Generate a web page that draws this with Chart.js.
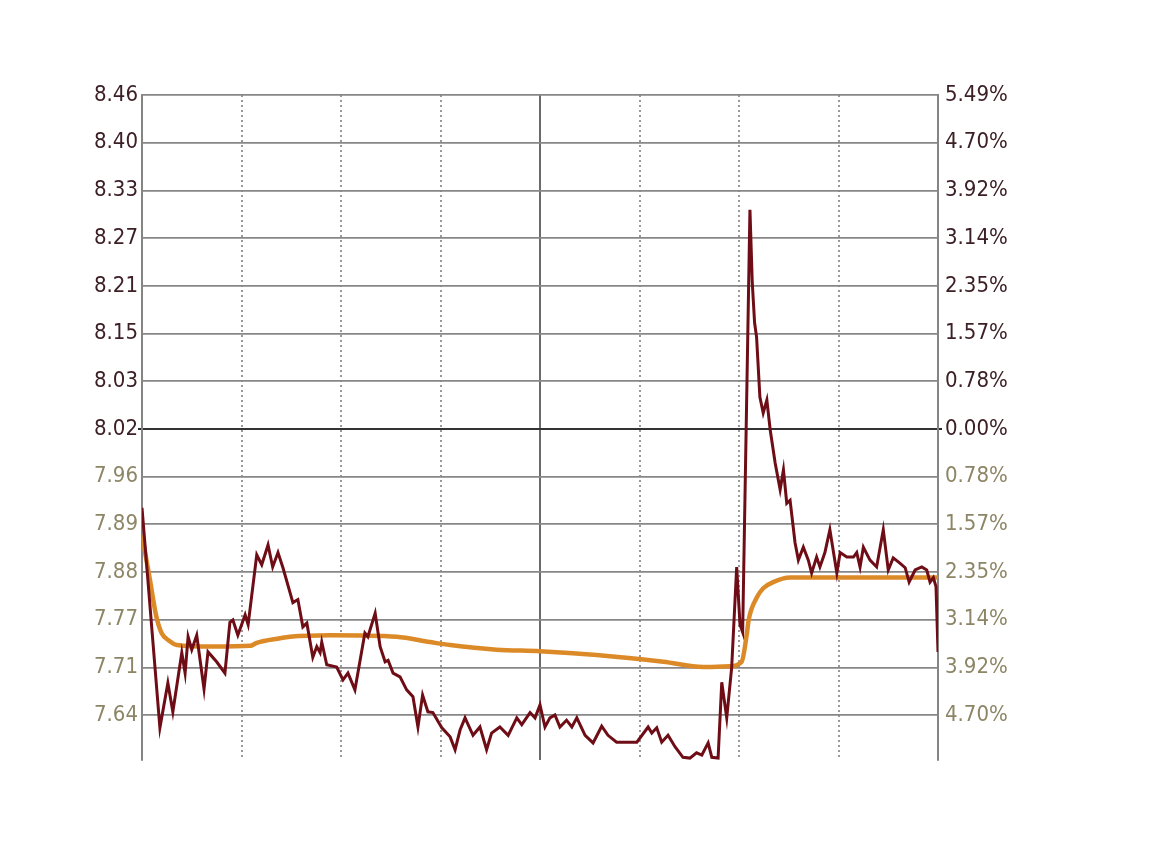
<!DOCTYPE html>
<html>
<head>
<meta charset="utf-8">
<script src="https://cdn.jsdelivr.net/npm/chart.js@4.4.1/dist/chart.umd.min.js"></script>
<style>
    html, body { margin: 0; padding: 0; background: #fff; }
    #wrap { width: 1176px; height: 849px; }
</style>
</head>
<body>
<div id="wrap"><canvas id="intradayChart"></canvas></div>
<script>
// minutes since open (0..240) and price of the trade line
const priceMinutes = [0, 5.4, 7.8, 9.3, 12.0, 13.0, 13.9, 15.0, 16.5, 18.7, 19.9, 22.5, 25.0, 26.5, 27.4, 28.9,
    31.1, 32.0, 34.6, 36.1, 38.0, 39.4, 41.0, 42.5, 45.5, 47.0, 48.5, 49.7, 51.5, 52.7, 53.7, 54.2, 55.7, 58.7,
    60.6, 62.1, 64.2, 67.2, 68.1, 70.3, 71.8, 73.3, 74.2, 75.7, 77.8, 79.8, 81.7, 83.2, 84.6, 86.2, 87.7, 90.4,
    92.9, 94.4, 95.9, 97.4, 99.8, 101.9, 103.9, 105.4, 107.9, 110.4, 113.0, 114.5, 117.0, 118.5, 120.0, 121.5,
    123.0, 124.5, 126.0, 128.0, 129.6, 131.1, 133.6, 136.0, 138.6, 140.5, 143.1, 149.2, 152.6, 153.7, 155.2,
    156.7, 158.6, 160.7, 163.1, 165.2, 167.2, 168.8, 170.7, 171.8, 173.7, 174.8, 176.3, 177.8, 179.3, 180.3,
    181.1, 183.3, 184.0, 184.7, 185.3, 186.3, 187.3, 188.4, 189.4, 190.9, 192.4, 193.4, 194.4, 195.4, 196.9,
    197.9, 199.4, 200.9, 201.9, 203.4, 204.4, 205.9, 207.4, 209.5, 210.5, 212.5, 214.5, 215.5, 216.5, 217.5,
    219.5, 221.5, 223.5, 225.0, 226.5, 228.5, 230.1, 231.3, 233.1, 235.1, 236.6, 237.6, 238.6, 239.4, 240];
const prices = [7.916, 7.626, 7.685, 7.647, 7.725, 7.698, 7.746, 7.729, 7.748, 7.677, 7.726, 7.713, 7.698, 7.765, 7.768, 7.748,
    7.775, 7.762, 7.854, 7.841, 7.867, 7.838, 7.857, 7.837, 7.791, 7.795, 7.759, 7.764, 7.719, 7.733, 7.725, 7.739, 7.709, 7.706,
    7.689, 7.698, 7.676, 7.751, 7.746, 7.777, 7.733, 7.713, 7.715, 7.698, 7.693, 7.676, 7.667, 7.627, 7.669, 7.647, 7.646, 7.626,
    7.614, 7.597, 7.623, 7.639, 7.616, 7.627, 7.597, 7.619, 7.627, 7.616, 7.639, 7.630, 7.646, 7.639, 7.656, 7.627,
    7.639, 7.643, 7.627, 7.636, 7.627, 7.639, 7.616, 7.606, 7.628, 7.616, 7.607, 7.607, 7.627, 7.619, 7.626,
    7.607, 7.616, 7.601, 7.587, 7.586, 7.593, 7.590, 7.606, 7.587, 7.586, 7.686, 7.639, 7.706, 7.838, 7.762,
    7.752, 8.309, 8.213, 8.160, 8.141, 8.062, 8.041, 8.058, 8.019, 7.975, 7.940, 7.966, 7.922, 7.926, 7.870,
    7.847, 7.864, 7.847, 7.830, 7.851, 7.838, 7.857, 7.887, 7.830, 7.857, 7.851, 7.851, 7.857, 7.838, 7.864,
    7.847, 7.838, 7.887, 7.834, 7.850, 7.843, 7.837, 7.818, 7.834, 7.838, 7.834, 7.818, 7.824, 7.812, 7.726];

// average price line
const avgMinutes = [0, 2.4, 4.2, 5.9, 8.4, 10.5, 21.4, 32.6, 34.6, 41.6, 44.6, 56.7, 76.8, 86.8, 92.9, 106.9,
    120.0, 137.1, 157.2, 169.2, 177.3, 180.8, 182.4, 182.9, 185.4, 187.3, 190.3, 195.4, 240];
const avgPrices = [7.880, 7.821, 7.775, 7.751, 7.740, 7.735, 7.733, 7.734, 7.738, 7.744, 7.746, 7.748, 7.746, 7.739, 7.735, 7.729,
    7.727, 7.722, 7.713, 7.706, 7.707, 7.713, 7.751, 7.768, 7.798, 7.810, 7.818, 7.824, 7.824];

// axis labels, bottom to top
const leftLabels = ['7.64', '7.71', '7.77', '7.88', '7.89', '7.96', '8.02', '8.03', '8.15', '8.21', '8.27', '8.33', '8.40', '8.46'];
const rightLabels = ['4.70%', '3.92%', '3.14%', '2.35%', '1.57%', '0.78%', '0.00%', '0.78%', '1.57%', '2.35%', '3.14%', '3.92%', '4.70%', '5.49%'];
const timeTicks = [0, 30, 60, 90, 120, 150, 180, 210, 240];

const basePrice = 8.02;
const gridStep = 0.0629;
const zeroIndex = 6;

const levels = leftLabels.map((_, i) => basePrice + (i - zeroIndex) * gridStep);
const darkText = '#3d2026';
const paleText = '#8c8666';
const labelFont = { family: '"DejaVu Sans Condensed", "DejaVu Sans", sans-serif', size: 22 };

function levelTicks(scale) {
    scale.ticks = levels.map(v => ({ value: v }));
}

function yAxis(position, labels, width, pad) {
    return {
        position: position,
        min: basePrice - 6.94 * gridStep,
        max: basePrice + 7 * gridStep,
        afterBuildTicks: levelTicks,
        afterFit: s => { s.width = width; },
        border: { display: true, color: '#858585', width: 2 },
        grid: {
            drawOnChartArea: position === 'left',
            color: c => c.index === zeroIndex ? '#333333' : '#878787',
            lineWidth: c => c.index === zeroIndex ? 2 : 1.8,
            drawTicks: true,
            tickLength: 4,
            tickColor: c => c.index === zeroIndex ? '#2a2a2a' : 'rgba(0,0,0,0)',
            tickWidth: 2
        },
        ticks: {
            padding: pad,
            font: labelFont,
            color: c => c.index >= zeroIndex ? darkText : paleText,
            callback: (v, i) => labels[i]
        }
    };
}

const ctx = document.getElementById('intradayChart').getContext('2d');
new Chart(ctx, {
    type: 'line',
    data: {
        datasets: [
            {
                label: '价格',
                data: priceMinutes.map((m, i) => ({ x: m, y: prices[i] })),
                borderColor: '#6e0d15',
                borderWidth: 3,
                pointRadius: 0,
                tension: 0,
                order: 1
            },
            {
                label: '均价',
                data: avgMinutes.map((m, i) => ({ x: m, y: avgPrices[i] })),
                borderColor: '#dc8a28',
                borderWidth: 4.5,
                pointRadius: 0,
                cubicInterpolationMode: 'monotone',
                order: 2
            }
        ]
    },
    options: {
        responsive: true,
        maintainAspectRatio: false,
        animation: false,
        layout: { padding: { top: 95, bottom: 89, left: 0, right: 0 } },
        plugins: { legend: { display: false }, tooltip: { enabled: false } },
        scales: {
            x: {
                type: 'linear',
                min: 0,
                max: 240,
                afterBuildTicks: s => { s.ticks = timeTicks.map(v => ({ value: v })); },
                afterFit: s => { s.height = 0; },
                ticks: { display: false },
                border: {
                    display: false,
                    dash: c => (c.tick && c.tick.value % 120 !== 0) ? [2, 3] : []
                },
                grid: {
                    drawTicks: false,
                    color: c => (c.tick && c.tick.value === 120) ? '#6a6a6a' : '#999999',
                    lineWidth: c => (c.tick && c.tick.value % 120 === 0) ? 2 : 2
                }
            },
            y: yAxis('left', leftLabels, 142, 0),
            y2: yAxis('right', rightLabels, 238, 3)
        }
    }
});
</script>
</body>
</html>
